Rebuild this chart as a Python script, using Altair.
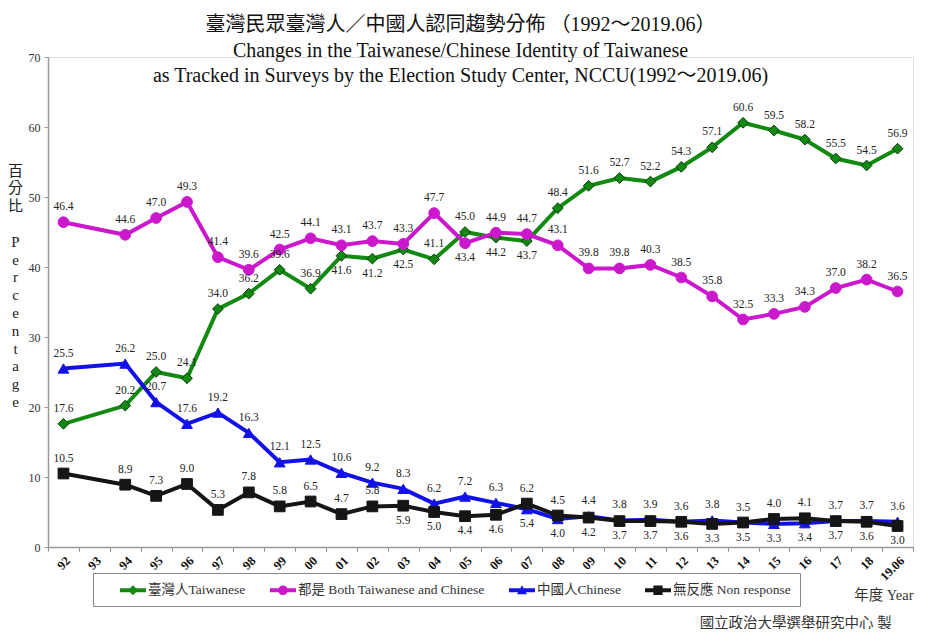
import altair as alt
import pandas as pd

years = ["92", "93", "94", "95", "96", "97", "98", "99", "00", "01", "02", "03", "04",
         "05", "06", "07", "08", "09", "10", "11", "12", "13", "14", "15", "16", "17",
         "18", "19.06"]

series_names = ["臺灣人Taiwanese", "都是 Both Taiwanese and Chinese",
                "中國人Chinese", "無反應 Non response"]

taiwanese = [17.6, None, 20.2, 25.0, 24.1, 34.0, 36.2, 39.6, 36.9, 41.6, 41.2, 42.5, 41.1,
             45.0, 44.2, 43.7, 48.4, 51.6, 52.7, 52.2, 54.3, 57.1, 60.6, 59.5, 58.2, 55.5,
             54.5, 56.9]
both = [46.4, None, 44.6, 47.0, 49.3, 41.4, 39.6, 42.5, 44.1, 43.1, 43.7, 43.3, 47.7,
        43.4, 44.9, 44.7, 43.1, 39.8, 39.8, 40.3, 38.5, 35.8, 32.5, 33.3, 34.3, 37.0,
        38.2, 36.5]
chinese = [25.5, None, 26.2, 20.7, 17.6, 19.2, 16.3, 12.1, 12.5, 10.6, 9.2, 8.3, 6.2,
           7.2, 6.3, 5.4, 4.0, 4.4, 3.8, 3.9, 3.6, 3.8, 3.5, 3.3, 3.4, 3.7, 3.7, 3.6]
nonresp = [10.5, None, 8.9, 7.3, 9.0, 5.3, 7.8, 5.8, 6.5, 4.7, 5.8, 5.9, 5.0,
           4.4, 4.6, 6.2, 4.5, 4.2, 3.7, 3.7, 3.6, 3.3, 3.5, 4.0, 4.1, 3.7, 3.6, 3.0]

colors = ["#128a12", "#cc18cc", "#1212e8", "#151515"]
outlines = ["#063a06", "#cc18cc", "#1212e8", "#151515"]
shapes = ["diamond", "circle", "triangle-up", "square"]

all_vals = [taiwanese, both, chinese, nonresp]
partner = {0: 1, 1: 0, 2: 3, 3: 2}

rows = []
for si, (name, vals) in enumerate(zip(series_names, all_vals)):
    other = all_vals[partner[si]]
    for i, (yr, v) in enumerate(zip(years, vals)):
        if v is None:
            continue
        p = other[i]
        first = si in (0, 2)
        smaller = v < p or (v == p and not first)
        pos = "below" if (smaller and (p - v) < 2.85) else "above"
        rows.append({"year": yr, "series": name, "value": v, "pos": pos})
df = pd.DataFrame(rows)

SERIF = "Liberation Serif, Noto Sans CJK TC"

# legend symbols: a line with the marker in the middle (custom SVG paths)
legend_paths = [
    "M1.25,-0.24H4.5V0.24H1.25Z M2.875,-0.62L3.495,0L2.875,0.62L2.255,0Z",
    "M2.275,0A0.6,0.6 0 1,1 3.475,0A0.6,0.6 0 1,1 2.275,0Z M1.25,-0.24H4.5V0.24H1.25Z",
    "M1.25,-0.24H4.5V0.24H1.25Z M2.875,-0.62L3.5,0.5L2.25,0.5Z",
    "M1.25,-0.24H4.5V0.24H1.25Z M2.3,-0.58H3.45V0.58H2.3Z",
]

x_enc = alt.X(
    "year:O",
    sort=years,
    bandPosition=0.5,
    scale=alt.Scale(domain=years, type="band", paddingInner=0, paddingOuter=0),
    axis=alt.Axis(
        title=["年度 Year",
               "國立政治大學選舉研究中心 製\u00a0\u00a0\u00a0\u00a0\u00a0\u00a0\u200b"],
        titleX=865, titleY=52, titleAlign="right", titleBaseline="alphabetic",
        titleAngle=0, titleFont=SERIF, titleFontSize=14.5, titleFontWeight="normal",
        titleColor="#333", titleLineHeight=28,
        labelAngle=-45, labelFont=SERIF, labelFontSize=12.5, labelFontWeight="bold",
        labelColor="#111", labelPadding=3,
        tickBand="extent", tickSize=4, tickColor="#888",
        domainColor="#999", domainWidth=1.5,
    ),
)
y_enc = alt.Y(
    "value:Q",
    scale=alt.Scale(domain=[0, 70], nice=False),
    axis=alt.Axis(
        values=[0, 10, 20, 30, 40, 50, 60, 70], grid=False,
        title=["百", "分", "比", "\u200b\u00a0\u200b", "P", "e", "r", "c", "e", "n", "t",
               "a", "g", "e"],
        titleAngle=0, titleX=-33, titleY=106, titleAlign="center", titleBaseline="top",
        titleFont=SERIF, titleFontSize=15, titleFontWeight="normal", titleColor="#222",
        titleLineHeight=17.8,
        labelFont=SERIF, labelFontSize=12, labelColor="#333", labelPadding=4,
        tickSize=4, tickColor="#999", domainColor="#999", domainWidth=1.5,
    ),
)

base = alt.Chart(df)

layers = []
# one line layer per series (constant colour, so no extra legend is created)
for name, col in zip(series_names, colors):
    layers.append(
        base.transform_filter(alt.datum.series == name)
        .mark_line(strokeWidth=4, color=col)
        .encode(x=x_enc, y=y_enc)
    )
for name, shp, col, oc in zip(series_names, shapes, colors, outlines):
    layers.append(
        base.transform_filter(alt.datum.series == name)
        .mark_point(shape=shp, filled=True, size=115, opacity=1, fill=col, stroke=oc,
                    strokeWidth=1)
        .encode(x=x_enc, y=y_enc)
    )

labels_above = base.transform_filter(alt.datum.pos == "above").mark_text(
    dy=-15, font=SERIF, fontSize=11.5, color="#222"
).encode(x=x_enc, y=y_enc, text=alt.Text("value:Q", format=".1f"))
labels_below = base.transform_filter(alt.datum.pos == "below").mark_text(
    dy=15, font=SERIF, fontSize=11.5, color="#222"
).encode(x=x_enc, y=y_enc, text=alt.Text("value:Q", format=".1f"))
layers += [labels_above, labels_below]

legend = alt.Legend(
    title=None, orient="none", legendX=45, legendY=516, direction="horizontal",
    columns=4, symbolSize=256, symbolStrokeWidth=0, symbolOpacity=1, labelOffset=30,
    columnPadding=6, padding=9, strokeColor="#888", fillColor="white", labelFont=SERIF,
    labelFontSize=13.5, labelColor="#333", labelLimit=400,
)
# helper layer with no rows: it only carries the legend
legend_layer = base.transform_filter("false").mark_point(filled=True).encode(
    color=alt.Color("series:N", scale=alt.Scale(domain=series_names, range=colors),
                    legend=legend),
    shape=alt.Shape("series:N", scale=alt.Scale(domain=series_names, range=legend_paths),
                    legend=legend),
)
layers.append(legend_layer)

chart = alt.layer(*layers).properties(
    width=865,
    height=490,
    padding={"left": 40, "top": 49, "right": 18, "bottom": 82},
    autosize=alt.AutoSizeParams(type="none"),
    title=alt.TitleParams(
        text=["臺灣民眾臺灣人／中國人認同趨勢分佈 （1992～2019.06）",
              "Changes in the Taiwanese/Chinese Identity of Taiwanese",
              "as Tracked in Surveys by the Election Study Center, NCCU(1992～2019.06)"],
        font=SERIF, fontSize=20, fontWeight="normal", color="#111",
        lineHeight=25.5, anchor="middle", offset=-35, dx=-20,
    ),
).configure_view(stroke=None).configure(background="white")

chart.save("out.html", embed_options={"renderer": "svg", "actions": False})
